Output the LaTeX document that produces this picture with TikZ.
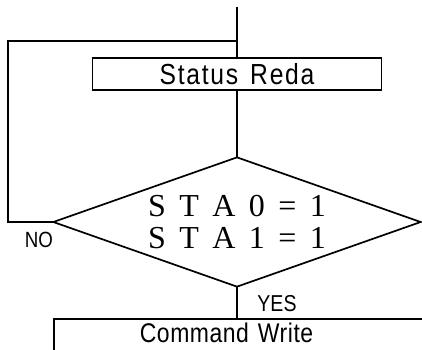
\documentclass[tikz,border=0pt]{standalone}
\usepackage{fontspec}
\usetikzlibrary{shapes.geometric}
\newfontfamily\condfont[FakeStretch=0.85]{Liberation Sans}
\newfontfamily\boxfont[FakeStretch=0.85,LetterSpace=6]{Liberation Sans}
\newfontfamily\cwfont[FakeStretch=0.85,LetterSpace=2]{Liberation Sans}
\newfontfamily\stafont{Liberation Serif}
\newcommand\wideskip{\spaceskip=13.5pt\relax}
\newcommand\boxskip{\spaceskip=12pt\relax}
\tikzset{
  line/.style={line width=1.7pt, line cap=rect},
  procbox/.style={draw, line width=1.7pt, rectangle, inner sep=0pt},
  lbl/.style={inner sep=0pt, font=\condfont\fontsize{22}{24}\selectfont},
}
\begin{document}
\begin{tikzpicture}[x=1pt,y=-1pt]
\useasboundingbox (0,0) rectangle (422,349);
\clip (0,0) rectangle (422,349);
% nodes
\node[procbox, minimum width=289pt, minimum height=32pt,
      font=\boxfont\fontsize{29}{30}\selectfont\boxskip] (st) at (237,74) {Status Reda\hspace{14pt}};
\node[draw, diamond, line width=1.7pt, minimum width=368pt, minimum height=130pt,
      inner sep=0pt] (dec) at (237,222) {};
\node[inner sep=0pt, align=center,
      font=\stafont\fontsize{32}{32}\selectfont\wideskip] (cond) at (237,222)
      {S T A 0 = 1\\S T A 1 = 1};
\node[procbox, anchor=north west, inner xsep=86pt, inner ysep=0pt,
      text width=300pt, align=left, text height=24pt, text depth=30pt,
      font=\cwfont\fontsize{27}{28}\selectfont\boxskip] (cw) at (53,318) {Command Write};
\node[lbl] (no) at (39,240) {NO};
\node[lbl, font=\condfont\fontsize{23}{25}\selectfont] (yes) at (277,304) {YES};
% coordinates
\coordinate (top) at (237,8);
\coordinate (lc) at (8,41);
\coordinate (join) at (237,41);
% connectors
\draw[line] (top) -- (st.north);
\draw[line] (st.south) -- (dec.north);
\draw[line] (dec.west) -| (lc) -- (join);
\draw[line] (dec.south) -- (dec.south |- cw.north);
\end{tikzpicture}
\end{document}
